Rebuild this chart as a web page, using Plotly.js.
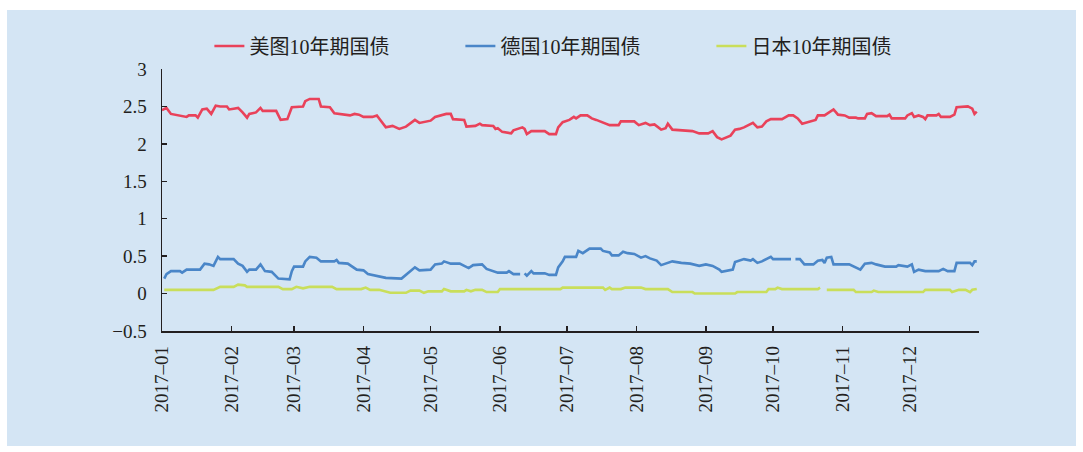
<!DOCTYPE html>
<html>
<head>
<meta charset="utf-8">
<script src="https://cdn.plot.ly/plotly-3.0.1.min.js"></script>
<style>
  html, body { margin: 0; padding: 0; background: #ffffff; }
  #chart { position: absolute; left: 7px; top: 10px; width: 1069px; height: 436px; }
</style>
</head>
<body>
<div id="chart"></div>
<script>
// Series names
const seriesNames = ["美图10年期国债", "德国10年期国债", "日本10年期国债"];

// US 10Y yield (%)
const usDates = ["2017-01-01","2017-01-03","2017-01-05","2017-01-07","2017-01-09","2017-01-12","2017-01-13","2017-01-16","2017-01-17","2017-01-19","2017-01-21","2017-01-23","2017-01-25","2017-01-27","2017-01-30","2017-01-31",
"2017-02-02","2017-02-04","2017-02-06","2017-02-08","2017-02-09","2017-02-12","2017-02-14","2017-02-15","2017-02-21","2017-02-23","2017-02-26","2017-02-28",
"2017-03-05","2017-03-06","2017-03-08","2017-03-12","2017-03-13","2017-03-17","2017-03-19","2017-03-23","2017-03-26","2017-03-28","2017-03-30",
"2017-04-01","2017-04-05","2017-04-07","2017-04-11","2017-04-14","2017-04-17","2017-04-20","2017-04-24","2017-04-26","2017-04-29",
"2017-05-01","2017-05-03","2017-05-06","2017-05-08","2017-05-10","2017-05-11","2017-05-16","2017-05-17","2017-05-21","2017-05-23","2017-05-24","2017-05-29","2017-05-30","2017-05-31",
"2017-06-02","2017-06-06","2017-06-07","2017-06-11","2017-06-12","2017-06-13","2017-06-15","2017-06-21","2017-06-23","2017-06-26","2017-06-27","2017-06-29",
"2017-07-02","2017-07-04","2017-07-05","2017-07-07","2017-07-10","2017-07-12","2017-07-14","2017-07-17","2017-07-20","2017-07-24","2017-07-25","2017-07-31",
"2017-08-02","2017-08-05","2017-08-07","2017-08-09","2017-08-12","2017-08-14","2017-08-15","2017-08-17","2017-08-23","2017-08-26","2017-08-29",
"2017-09-02","2017-09-04","2017-09-06","2017-09-08","2017-09-12","2017-09-14","2017-09-16","2017-09-18","2017-09-22","2017-09-24","2017-09-26","2017-09-28","2017-09-30",
"2017-10-05","2017-10-08","2017-10-10","2017-10-12","2017-10-14","2017-10-17","2017-10-20","2017-10-21","2017-10-24","2017-10-28","2017-10-30",
"2017-11-02","2017-11-04","2017-11-07","2017-11-08","2017-11-11","2017-11-12","2017-11-14","2017-11-16","2017-11-21","2017-11-22","2017-11-23","2017-11-29","2017-11-30",
"2017-12-02","2017-12-03","2017-12-05","2017-12-07","2017-12-08","2017-12-09","2017-12-13","2017-12-14","2017-12-15","2017-12-19","2017-12-21","2017-12-22","2017-12-27","2017-12-29","2017-12-30","2017-12-31"];
const usYield = [2.45,2.48,2.40,2.39,2.38,2.36,2.38,2.38,2.35,2.46,2.47,2.40,2.51,2.50,2.50,2.46,
2.47,2.48,2.42,2.35,2.40,2.42,2.48,2.44,2.44,2.32,2.33,2.49,
2.50,2.57,2.60,2.60,2.50,2.49,2.41,2.39,2.38,2.40,2.39,
2.36,2.36,2.38,2.22,2.24,2.20,2.23,2.32,2.28,2.30,
2.31,2.36,2.38,2.40,2.40,2.33,2.32,2.23,2.24,2.27,2.25,2.24,2.20,2.21,
2.16,2.14,2.18,2.22,2.20,2.13,2.17,2.17,2.13,2.13,2.22,2.29,
2.32,2.36,2.34,2.38,2.38,2.34,2.32,2.29,2.25,2.25,2.30,2.30,
2.25,2.28,2.25,2.26,2.19,2.21,2.27,2.19,2.18,2.17,2.14,
2.14,2.17,2.09,2.06,2.11,2.19,2.20,2.22,2.28,2.22,2.23,2.30,2.33,
2.33,2.38,2.38,2.34,2.27,2.30,2.32,2.38,2.38,2.46,2.39,
2.38,2.35,2.35,2.34,2.34,2.40,2.41,2.37,2.37,2.39,2.34,2.34,2.38,
2.41,2.36,2.38,2.36,2.33,2.38,2.38,2.40,2.36,2.36,2.39,2.49,2.50,2.47,2.40,2.43];

// Germany 10Y yield (%)
const deDates = ["2017-01-02","2017-01-03","2017-01-05","2017-01-09","2017-01-10","2017-01-12","2017-01-18","2017-01-20","2017-01-22","2017-01-24","2017-01-26","2017-01-27",
"2017-02-02","2017-02-04","2017-02-06","2017-02-08","2017-02-09","2017-02-12","2017-02-14","2017-02-16","2017-02-19","2017-02-22","2017-02-27","2017-02-28",
"2017-03-01","2017-03-05","2017-03-06","2017-03-08","2017-03-11","2017-03-13","2017-03-19","2017-03-20","2017-03-21","2017-03-25","2017-03-29",
"2017-04-01","2017-04-03","2017-04-07","2017-04-11","2017-04-18","2017-04-24","2017-04-26",
"2017-05-01","2017-05-03","2017-05-06","2017-05-07","2017-05-10","2017-05-14","2017-05-18","2017-05-20","2017-05-24","2017-05-26","2017-05-29","2017-05-31",
"2017-06-04","2017-06-05","2017-06-07","2017-06-10","2017-06-11","2017-06-12","2017-06-13","2017-06-15","2017-06-16","2017-06-21","2017-06-23","2017-06-26","2017-06-27","2017-06-29","2017-06-30",
"2017-07-05","2017-07-06","2017-07-08","2017-07-11","2017-07-16","2017-07-17","2017-07-20","2017-07-21","2017-07-24","2017-07-26","2017-07-28","2017-07-31",
"2017-08-03","2017-08-05","2017-08-07","2017-08-10","2017-08-12","2017-08-15","2017-08-17","2017-08-21","2017-08-25","2017-08-29",
"2017-09-01","2017-09-04","2017-09-07","2017-09-08","2017-09-11","2017-09-13","2017-09-14","2017-09-16","2017-09-18","2017-09-21","2017-09-22","2017-09-24","2017-09-26","2017-09-30",
"2017-10-01","2017-10-09","2017-10-10","2017-10-11","2017-10-13","2017-10-15","2017-10-19","2017-10-21","2017-10-23","2017-10-24","2017-10-25","2017-10-27","2017-10-28",
"2017-11-04","2017-11-07","2017-11-09","2017-11-11","2017-11-14","2017-11-16","2017-11-20","2017-11-25","2017-11-26","2017-11-30",
"2017-12-02","2017-12-03","2017-12-05","2017-12-08","2017-12-14","2017-12-16","2017-12-18","2017-12-21","2017-12-22","2017-12-28","2017-12-29","2017-12-30","2017-12-31"];
const deYield = [0.20,0.26,0.30,0.30,0.28,0.32,0.32,0.40,0.39,0.37,0.49,0.46,
0.46,0.40,0.37,0.29,0.32,0.32,0.39,0.30,0.29,0.20,0.19,0.30,
0.36,0.36,0.43,0.49,0.48,0.43,0.43,0.45,0.41,0.40,0.32,
0.31,0.26,0.23,0.21,0.20,0.35,0.31,
0.32,0.39,0.40,0.43,0.40,0.40,0.34,0.38,0.39,0.33,0.30,0.28,
0.28,0.30,0.26,0.26,null,0.27,0.24,0.30,0.27,0.27,0.25,0.25,0.35,0.43,0.49,
0.49,0.57,0.54,0.60,0.60,0.57,0.55,0.51,0.51,0.56,0.54,0.53,
0.48,0.50,0.47,0.44,0.38,0.41,0.43,0.41,0.40,0.37,
0.39,0.37,0.32,0.29,0.31,0.32,0.42,0.44,0.46,0.44,0.46,0.41,0.43,0.49,
0.46,0.46,null,0.46,0.46,0.39,0.39,0.44,0.45,0.41,0.48,0.49,0.39,
0.39,0.35,0.32,0.40,0.41,0.39,0.36,0.36,0.38,0.36,
0.39,0.29,0.32,0.30,0.30,0.33,0.30,0.30,0.41,0.41,0.38,0.43,0.43];

// Japan 10Y yield (%)
const jpDates = ["2017-01-02","2017-01-24","2017-01-27",
"2017-02-02","2017-02-04","2017-02-07","2017-02-08","2017-02-22","2017-02-24","2017-02-28",
"2017-03-02","2017-03-05","2017-03-08","2017-03-18","2017-03-20","2017-03-31",
"2017-04-02","2017-04-04","2017-04-08","2017-04-13","2017-04-20","2017-04-22","2017-04-26","2017-04-28","2017-04-30",
"2017-05-06","2017-05-07","2017-05-10","2017-05-16","2017-05-17","2017-05-19","2017-05-21","2017-05-24","2017-05-26","2017-05-31",
"2017-06-01","2017-06-28","2017-06-29",
"2017-07-17","2017-07-18","2017-07-20","2017-07-21","2017-07-25","2017-07-27",
"2017-08-03","2017-08-05","2017-08-15","2017-08-17","2017-08-26","2017-08-27",
"2017-09-14","2017-09-15","2017-09-28","2017-09-29",
"2017-10-02","2017-10-03","2017-10-05","2017-10-21","2017-10-22","2017-10-23","2017-10-25",
"2017-11-06","2017-11-07","2017-11-14","2017-11-15","2017-11-17",
"2017-12-07","2017-12-08","2017-12-19","2017-12-20","2017-12-23","2017-12-26","2017-12-28","2017-12-29","2017-12-31"];
const jpYield = [0.05,0.05,0.09,
0.09,0.12,0.11,0.09,0.09,0.06,0.06,
0.09,0.07,0.09,0.09,0.06,0.06,
0.08,0.05,0.05,0.01,0.01,0.04,0.04,0.01,0.03,
0.03,0.06,0.03,0.03,0.05,0.03,0.05,0.05,0.02,0.02,
0.06,0.06,0.08,
0.08,0.05,0.08,0.06,0.06,0.08,
0.08,0.06,0.06,0.02,0.02,0.00,
0.00,0.02,0.02,0.06,
0.06,0.08,0.06,0.06,0.08,null,0.05,
0.05,0.02,0.02,0.04,0.02,
0.02,0.05,0.05,0.02,0.05,0.05,0.02,0.05,0.06];

const colors = ["#e9425a", "#4a86c8", "#c9de5a"];
const seriesX = [usDates, deDates, jpDates];
const seriesY = [usYield, deYield, jpYield];

const traces = seriesNames.map((name, i) => ({
  type: "scatter",
  mode: "lines",
  name: name,
  x: seriesX[i],
  y: seriesY[i],
  connectgaps: false,
  line: { color: colors[i], width: 2.6 },
  hoverinfo: "skip"
}));

const textFont = { family: "'Liberation Serif', 'Times New Roman', 'Noto Sans CJK SC', serif", size: 19, color: "#231f20" };

const layout = {
  width: 1069,
  height: 436,
  paper_bgcolor: "#d4e5f4",
  plot_bgcolor: "#d4e5f4",
  margin: { l: 155, r: 97, t: 59, b: 115, pad: 0 },
  font: textFont,
  showlegend: true,
  legend: {
    orientation: "h",
    x: 0.058,
    xanchor: "left",
    y: 1.088,
    yanchor: "middle",
    bgcolor: "rgba(0,0,0,0)",
    font: { family: "'Liberation Serif', 'Noto Sans CJK SC', serif", size: 20, color: "#231f20" },
    entrywidth: 206,
    entrywidthmode: "pixels",
    itemwidth: 30
  },
  xaxis: {
    type: "date",
    range: ["2017-01-01", "2018-01-01"],
    tickvals: ["2017-01-01","2017-02-01","2017-03-01","2017-04-01","2017-05-01","2017-06-01","2017-07-01","2017-08-01","2017-09-01","2017-10-01","2017-11-01","2017-12-01"],
    tickformat: "%Y–%m",
    tickangle: -90,
    ticks: "inside",
    ticklen: 5,
    tickwidth: 1.3,
    tickcolor: "#231f20",
    showline: true,
    linecolor: "#231f20",
    linewidth: 1.5,
    showgrid: false,
    zeroline: false,
    tickfont: textFont,
    ticklabelstandoff: 6
  },
  yaxis: {
    range: [-0.5, 3],
    tickvals: [-0.5, 0, 0.5, 1, 1.5, 2, 2.5, 3],
    ticktext: ["−0.5", "0", "0.5", "1", "1.5", "2", "2.5", "3"],
    ticks: "inside",
    ticklen: 5,
    tickwidth: 1.3,
    tickcolor: "#231f20",
    showline: true,
    linecolor: "#231f20",
    linewidth: 1.5,
    showgrid: false,
    zeroline: false,
    tickfont: textFont,
    ticklabelstandoff: 10
  }
};

Plotly.newPlot("chart", traces, layout, { staticPlot: true, displayModeBar: false });
</script>
</body>
</html>
